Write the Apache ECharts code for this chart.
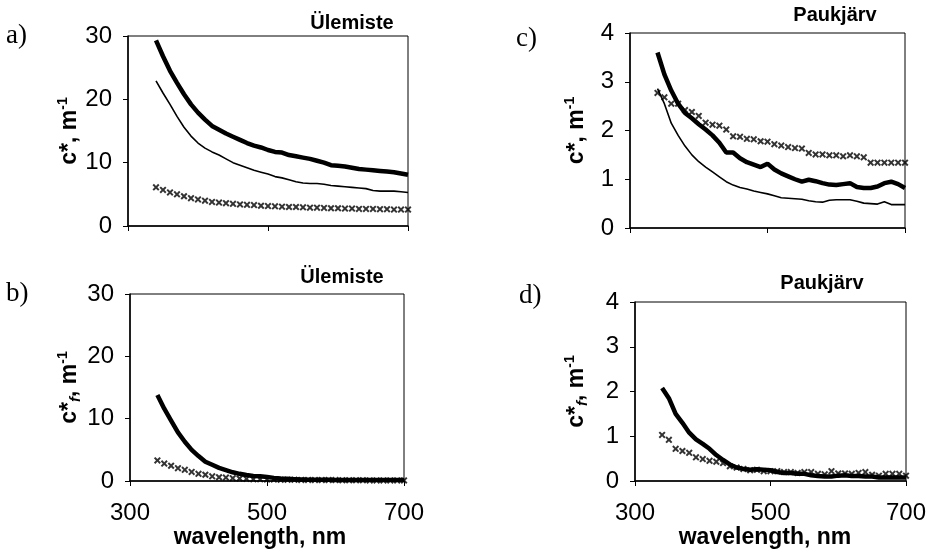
<!DOCTYPE html>
<html>
<head>
<meta charset="utf-8">
<script src="https://cdn.jsdelivr.net/npm/echarts@6/dist/echarts.min.js"></script>
<style>html,body{margin:0;padding:0;background:#fff;}#c{width:930px;height:557px;}</style>
</head>
<body>
<div id="c"></div>
<script>
// wavelengths, nm
const wavelengths = [340,350,360,370,380,390,400,410,420,430,440,450,460,470,480,490,500,510,520,530,540,550,560,570,580,590,600,610,620,630,640,650,660,670,680,690,700];
const xTicks = [300, 500, 700];

// a) Ülemiste c*
const aThick = [29.3,26.8,24.5,22.6,20.8,19.2,17.9,16.8,15.8,15.2,14.6,14.1,13.6,13.1,12.7,12.4,12.0,11.7,11.6,11.2,11.0,10.8,10.6,10.3,10.0,9.6,9.5,9.4,9.2,9.0,8.9,8.8,8.7,8.6,8.5,8.3,8.1];
const aThin = [22.9,21.0,19.2,17.3,15.6,14.2,13.1,12.3,11.7,11.2,10.6,10.0,9.6,9.2,8.8,8.5,8.2,7.8,7.6,7.3,7.0,6.8,6.7,6.7,6.6,6.4,6.3,6.2,6.1,6.0,5.9,5.6,5.5,5.5,5.5,5.4,5.3];
const aCross = [6.1,5.7,5.3,5.0,4.7,4.4,4.2,4.0,3.8,3.7,3.6,3.5,3.4,3.35,3.3,3.2,3.15,3.1,3.05,3.0,3.0,2.95,2.9,2.9,2.85,2.8,2.8,2.75,2.75,2.7,2.7,2.7,2.65,2.65,2.6,2.6,2.6];

// b) Ülemiste c*f
const bThick = [13.8,11.6,9.7,7.8,6.3,5.0,4.0,3.1,2.6,2.1,1.75,1.4,1.15,0.95,0.8,0.75,0.65,0.5,0.4,0.35,0.3,0.25,0.2,0.2,0.2,0.2,0.15,0.15,0.15,0.15,0.15,0.15,0.15,0.15,0.15,0.15,0.15];
const bCross = [3.3,2.8,2.45,2.05,1.8,1.45,1.15,1.0,0.75,0.6,0.55,0.45,0.4,0.35,0.3,0.3,0.25,0.25,0.2,0.2,0.2,0.18,0.18,0.15,0.15,0.15,0.15,0.12,0.12,0.12,0.12,0.1,0.1,0.1,0.1,0.1,0.1];

// c) Paukjärv c*
const cThick = [3.60,3.15,2.82,2.55,2.36,2.25,2.13,2.02,1.90,1.75,1.55,1.55,1.43,1.35,1.30,1.25,1.32,1.20,1.12,1.06,1.00,0.95,0.99,0.96,0.92,0.89,0.88,0.90,0.92,0.84,0.82,0.82,0.85,0.92,0.95,0.90,0.82];
const cThin = [2.86,2.55,2.15,1.90,1.68,1.50,1.36,1.25,1.15,1.05,0.95,0.88,0.83,0.80,0.76,0.73,0.70,0.66,0.62,0.61,0.60,0.59,0.56,0.54,0.53,0.57,0.58,0.58,0.58,0.55,0.51,0.50,0.49,0.54,0.48,0.48,0.48];
const cCross = [2.77,2.68,2.55,2.55,2.42,2.38,2.30,2.16,2.12,2.10,2.02,1.88,1.87,1.83,1.82,1.78,1.77,1.72,1.69,1.66,1.64,1.63,1.54,1.51,1.51,1.49,1.49,1.47,1.49,1.47,1.45,1.34,1.34,1.34,1.34,1.34,1.34];

// d) Paukjärv c*f
const dThick = [2.08,1.85,1.5,1.3,1.08,0.93,0.83,0.72,0.58,0.47,0.37,0.3,0.27,0.25,0.26,0.25,0.24,0.2,0.18,0.18,0.16,0.16,0.13,0.11,0.1,0.1,0.12,0.13,0.11,0.11,0.1,0.1,0.08,0.08,0.08,0.08,0.08];
const dCross = [1.03,0.92,0.72,0.67,0.63,0.53,0.49,0.45,0.43,0.4,0.33,0.3,0.27,0.24,0.25,0.22,0.22,0.22,0.2,0.2,0.18,0.2,0.2,0.16,0.15,0.22,0.17,0.17,0.16,0.18,0.2,0.14,0.12,0.16,0.16,0.16,0.12];

const panelLabels = ['a)', 'b)', 'c)', 'd)'];
const lakeNames = ['Ülemiste', 'Ülemiste', 'Paukjärv', 'Paukjärv'];
const xName = 'wavelength, nm';

const FONT = '"Liberation Sans", Arial, sans-serif';
const crossPath = 'path://M0,2 L2,0 L5,3 L8,0 L10,2 L7,5 L10,8 L8,10 L5,7 L2,10 L0,8 L3,5 Z';

const pair = arr => wavelengths.map((w, i) => [w, arr[i]]);

const grids = [
  {left: 128, top: 36, width: 280, height: 190},
  {left: 130, top: 294, width: 274, height: 187},
  {left: 630, top: 33, width: 275, height: 195},
  {left: 635, top: 302, width: 271, height: 179}
].map(g => Object.assign({show: true, borderColor: '#000', borderWidth: 1, backgroundColor: '#fff', containLabel: false}, g));

function xAxis(i, showLabels, shift) {
  return {
    type: 'value', gridIndex: i, min: 300, max: 700, interval: 200,
    axisLine: {show: true, onZero: false, lineStyle: {color: '#000', width: 1.5}},
    axisTick: {show: true, length: 5, lineStyle: {color: '#000', width: 1}},
    axisLabel: {show: showLabels, color: '#000', fontFamily: FONT, fontSize: 24, margin: 20},
    splitLine: {show: false},
    name: showLabels ? xName : '',
    nameLocation: 'middle', nameGap: 44,
    nameTextStyle: {color: '#000', fontFamily: FONT, fontSize: 23, fontWeight: 'bold', padding: [0, shift || 0, 0, 0]}
  };
}
const richY = {
  b: {fontFamily: FONT, fontSize: 23, fontWeight: 'bold', color: '#000', lineHeight: 27},
  sup: {fontFamily: FONT, fontSize: 14, fontWeight: 'bold', color: '#000', lineHeight: 14, verticalAlign: 'top'},
  sub: {fontFamily: FONT, fontSize: 15, fontWeight: 'bold', fontStyle: 'italic', color: '#000', lineHeight: 14, verticalAlign: 'bottom'}
};
function yAxis(i, max, interval, isF, gap) {
  return {
    type: 'value', gridIndex: i, min: 0, max: max, interval: interval,
    axisLine: {show: true, lineStyle: {color: '#000', width: 1.5}},
    axisTick: {show: true, length: 5, lineStyle: {color: '#000', width: 1}},
    axisLabel: {color: '#000', fontFamily: FONT, fontSize: 24, margin: 16},
    splitLine: {show: false},
    name: isF ? '{b|c*}{sub|f}{b|, m}{sup|-1}' : '{b|c*, m}{sup|-1}',
    nameLocation: 'middle', nameRotate: 90, nameGap: gap,
    nameTextStyle: {rich: richY}
  };
}

function thick(i, arr) {
  return {type: 'line', xAxisIndex: i, yAxisIndex: i, data: pair(arr), showSymbol: false, symbol: 'none',
    lineStyle: {color: '#000', width: 4.5}, z: 3, animation: false};
}
function thin(i, arr) {
  return {type: 'line', xAxisIndex: i, yAxisIndex: i, data: pair(arr), showSymbol: false, symbol: 'none',
    lineStyle: {color: '#000', width: 1.6}, z: 3, animation: false};
}
function cross(i, arr) {
  return {type: 'scatter', xAxisIndex: i, yAxisIndex: i, data: pair(arr), symbol: crossPath, symbolSize: 7,
    itemStyle: {color: '#000'}, z: 4, animation: false};
}

const labelPos = [[6, 22], [6, 280], [516, 25], [519, 282]];
const titlePos = [[352, 23], [342, 277], [835, 15], [822, 283]];
const graphic = [];
panelLabels.forEach((t, i) => {
  graphic.push({type: 'text', left: labelPos[i][0], top: labelPos[i][1],
    style: {text: t, font: '27px "Liberation Serif", "Times New Roman", serif', fill: '#000'}});
});
lakeNames.forEach((t, i) => {
  graphic.push({type: 'text', x: titlePos[i][0], y: titlePos[i][1],
    style: {text: t, font: 'bold 20px ' + FONT, fill: '#000', align: 'center', verticalAlign: 'middle'}});
});

const option = {
  backgroundColor: '#fff',
  animation: false,
  grid: grids,
  xAxis: [xAxis(0, false), xAxis(1, true, 14), xAxis(2, false), xAxis(3, true, 11)],
  yAxis: [yAxis(0, 30, 10, false, 44), yAxis(1, 30, 10, true, 46), yAxis(2, 4, 1, false, 40), yAxis(3, 4, 1, true, 45)],
  series: [
    thick(0, aThick), thin(0, aThin), cross(0, aCross),
    thick(1, bThick), cross(1, bCross),
    thick(2, cThick), thin(2, cThin), cross(2, cCross),
    thick(3, dThick), cross(3, dCross)
  ],
  graphic: graphic
};
const chart = echarts.init(document.getElementById('c'), null, {renderer: 'canvas'});
chart.setOption(option);
</script>
</body>
</html>
